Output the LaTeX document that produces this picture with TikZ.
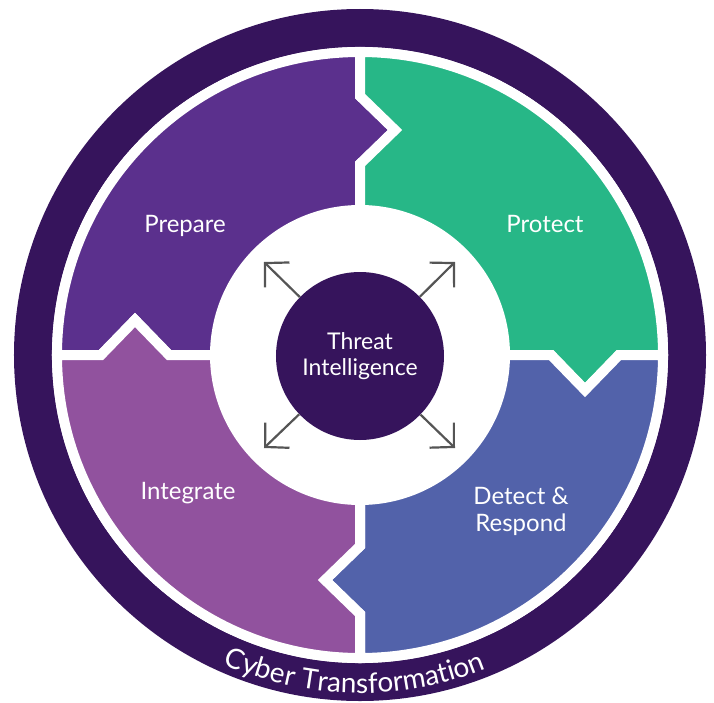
\documentclass[tikz,border=0pt]{standalone}
\usepackage{fontspec}
\setmainfont{Lato}
\usepackage{tikz}
\usetikzlibrary{arrows.meta,decorations.text}
\definecolor{ringdark}{RGB}{54,20,92}
\definecolor{prepare}{RGB}{91,48,141}
\definecolor{protect}{RGB}{39,183,135}
\definecolor{detect}{RGB}{82,98,170}
\definecolor{integrate}{RGB}{145,82,158}
\definecolor{arrowgray}{RGB}{85,85,85}

\begin{document}
\begin{tikzpicture}[x=1pt, y=1pt,
  quadtext/.style={text=white, font=\fontsize{24}{27}\selectfont, align=center},
  quarter/.style={draw=white, line width=10pt, line join=miter},
  spread/.style={draw=arrowgray, line width=2.2pt, -{Straight Barb[length=17pt, width=35pt, sharp]}}]
\useasboundingbox (-360,-347) rectangle (354,355);
% Outer ring
\fill[ringdark] (0,0) circle (346);
\fill[white] (0,0) circle (308);
% Quadrants (one outline, rotated round the centre)
\foreach \ang/\col in {0/prepare, -90/protect, -180/detect, -270/integrate}
  \filldraw[quarter, fill=\col, rotate=\ang]
    (180:145) arc[start angle=180, end angle=90, radius=145]
    -- (0,191) -- (35,225) -- (0,259) -- (90:303)
    arc[start angle=90, end angle=180, radius=303]
    -- (-259,0) -- (-225,35) -- (-191,0) -- cycle;
% Labels
\node[quadtext, anchor=base] (prep) at (-175,123) {Prepare};
\node[quadtext, anchor=base] (prot) at (185,123) {Protect};
\node[quadtext] (detresp) at (161,-156) {Detect \&\\Respond};
\node[quadtext, anchor=base] (integ) at (-172,-144) {Integrate};
% Centre
\node[circle, fill=ringdark, minimum size=168pt, quadtext, font=\fontsize{23}{26}\selectfont] (ti) at (0,-1) {Threat\\Intelligence};
\coordinate (nw) at (-96,93);
\coordinate (ne) at (95,93);
\coordinate (sw) at (-96,-93);
\coordinate (se) at (95,-93);
\foreach \c in {nw,ne,sw,se}
  \draw[spread] (ti) -- (\c);
% Ring text
\path[decorate, decoration={text along path, text align=center, text color=white,
  text={|\fontsize{28}{28}\selectfont|Cyber Transformation}}]
  (204:338) arc[start angle=204, end angle=334, radius=338];
\end{tikzpicture}
\end{document}
